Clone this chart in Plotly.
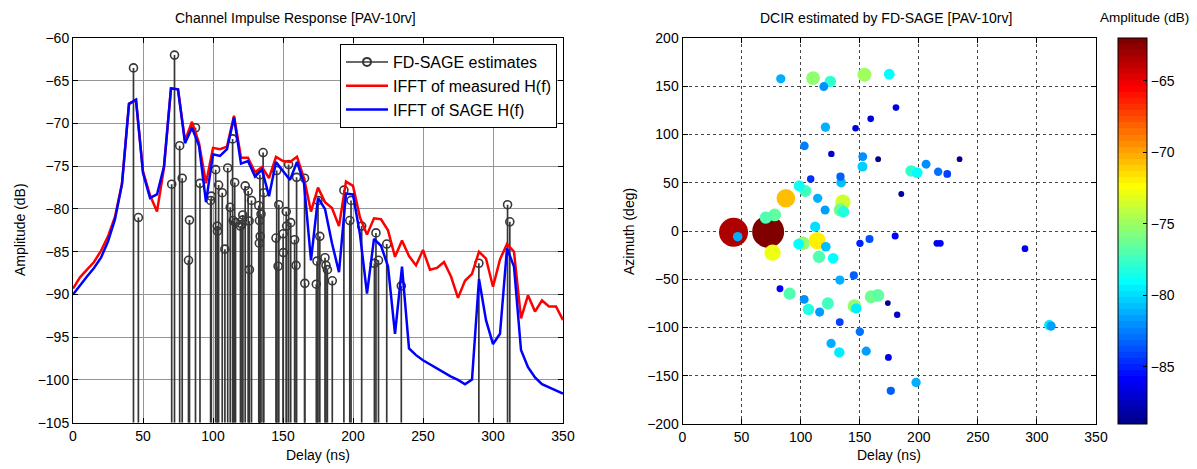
import numpy as np
import plotly.graph_objects as go

# ---------------- data ----------------
# FD-SAGE path estimates: delay (ns), amplitude (dB), azimuth (deg)
path_delay = [43.2, 46.7, 70.5, 72.5, 76.2, 78.0, 82.5, 83.2, 87.5, 90.7,
              98.3, 98.8, 101.9, 103.0, 103.2, 104.0, 106.6, 108.5, 110.5, 112.3,
              114.0, 114.4, 115.5, 116.1, 119.6, 120.7, 121.0, 121.3, 123.0, 125.1,
              125.8, 126.0, 127.5, 132.7, 133.1, 133.2, 133.5, 133.7, 134.3, 135.8,
              136.3, 145.0, 145.5, 146.5, 147.0, 150.1, 150.2, 152.3, 152.6, 154.0,
              155.5, 158.3, 159.3, 159.7, 165.4, 165.6, 173.8, 174.3, 175.0, 176.3,
              180.0, 180.7, 181.7, 185.2, 193.5, 197.7, 198.6, 206.2, 215.3, 216.4,
              218.2, 224.1, 234.5, 289.9, 310.4, 312.0]
path_amp = [-63.5, -81.0, -77.1, -62.0, -72.6, -76.4, -86.0, -81.3, -70.5, -77.0,
            -79.0, -78.5, -75.4, -82.0, -82.6, -77.2, -78.1, -84.7, -75.2, -79.8,
            -71.8, -81.35, -76.9, -81.6, -82.0, -81.8, -81.3, -80.7, -77.3, -77.9,
            -81.4, -87.1, -79.0, -79.6, -84.0, -81.35, -76.0, -83.2, -80.6, -73.4,
            -78.1, -83.4, -75.5, -86.7, -79.5, -82.9, -85.1, -80.3, -82.0, -74.8,
            -81.6, -83.6, -86.6, -76.3, -76.4, -88.7, -88.8, -86.1, -79.0, -83.2,
            -85.7, -86.6, -87.1, -88.4, -77.8, -81.35, -79.0, -82.0, -86.35, -82.8,
            -86.0, -84.1, -89.0, -86.35, -79.5, -81.5]
path_azimuth = [-1.3, -5.9, 13.8, -0.7, -22.5, 16.6, -59.8, 157.7, 33.9, -65.0,
                -13.5, 46.7, -12.8, -70.9, 88.2, 41.5, -81.2, 53.9, 158.4, 4.5,
                -10.0, 33.9, -26.7, -84.0, 149.7, 21.8, 107.6, -16.3, -75.0, 154.9,
                -116.5, 79.9, -28.3, -125.8, -94.4, -50.8, 21.8, 56.3, 50.1, 29.8,
                20.0, -46.0, -77.8, 106.5, -80.2, -104.4, -12.8, 66.7, 77.1, 161.8,
                -124.5, -8.3, 116.2, -68.1, -66.7, 74.4, -74.7, -131.0, 162.5, -165.6,
                -5.2, 127.9, -86.8, 38.4, 62.2, -157.0, 60.5, 69.2, -12.8, 61.5,
                -12.8, 59.1, 74.4, -18.3, -97.5, -98.5]

# IFFT curves sampled on the delay grid (ns)
ifft_delay = list(range(0, 351, 5))
ifft_measured = [-89.3, -88.0, -87.1, -86.2, -84.9, -83.2, -80.9, -77.0, -67.7, -67.3,
                 -75.6, -78.4, -80.3, -75.2, -65.9, -66.0, -72.0, -69.8, -72.3, -77.0,
                 -72.85, -73.0, -72.7, -69.1, -74.0, -74.0, -75.7, -75.1, -76.4, -73.9,
                 -74.4, -74.5, -73.9, -76.4, -80.3, -77.5, -79.2, -79.9, -82.0, -76.8,
                 -77.3, -81.0, -83.0, -81.1, -81.2, -82.5, -85.6, -83.7, -85.5, -86.6,
                 -84.8, -87.1, -86.9, -86.2, -87.9, -90.4, -88.4, -87.6, -85.0, -85.8,
                 -89.1, -85.9, -84.1, -85.0, -92.8, -90.1, -92.0, -90.7, -91.4, -91.4,
                 -93.0]
ifft_sage = [-90.0, -88.9, -87.9, -86.9, -85.7, -83.8, -81.2, -77.1, -67.7, -67.2,
             -75.8, -78.7, -78.3, -75.0, -65.9, -66.0, -72.3, -70.5, -72.6, -79.2,
             -73.6, -73.8, -73.0, -69.3, -74.7, -74.4, -76.2, -75.4, -78.5, -74.5,
             -75.5, -76.6, -74.5, -77.0, -86.0, -78.7, -80.0, -84.0, -87.4, -78.2,
             -78.3, -83.0, -89.9, -83.5, -84.3, -86.7, -94.6, -86.75, -96.3, -97.1,
             -97.7, -98.2, -98.7, -99.1, -99.6, -100.0, -100.5, -99.95, -88.2, -93.0,
             -95.8, -94.6, -84.6, -86.75, -96.5, -98.5, -99.7, -100.5, -100.85, -101.25,
             -101.6]

left_yticks = [-105, -100, -95, -90, -85, -80, -75, -70, -65, -60]
delay_ticks = [0, 50, 100, 150, 200, 250, 300, 350]
az_ticks = [-200, -150, -100, -50, 0, 50, 100, 150, 200]
cbar_ticks = [-85, -80, -75, -70, -65]

# ---------------- helpers ----------------
OFF = 8                      # page body margin
W, H = 1197 - OFF, 469 - OFF
def fx(px):
    return (px - OFF) / W
def fy(py):
    return 1 - (py - OFF) / H

def jet(m=64):
    n = int(np.ceil(m / 4))
    u = np.concatenate([np.arange(1, n + 1) / n, np.ones(n - 1), np.arange(n, 0, -1) / n])
    g = int(np.ceil(n / 2)) - (1 if m % 4 == 1 else 0) + np.arange(1, len(u) + 1)
    r = g + n
    b = g - n
    R = np.zeros(m); G = np.zeros(m); B = np.zeros(m)
    R[r[r <= m] - 1] = u[r <= m]
    G[g[g <= m] - 1] = u[g <= m]
    B[b[b >= 1] - 1] = u[b >= 1]
    return np.stack([R, G, B], axis=1)

cols = jet(64)
colorscale = []
for i, c in enumerate(cols):
    s = 'rgb(%d,%d,%d)' % tuple(int(round(v * 255)) for v in c)
    colorscale.append([i / 64, s])
    colorscale.append([(i + 1) / 64, s])

FONT = "Liberation Sans, Arial, sans-serif"
STEM = "rgb(55,55,55)"
BASE = -105

fig = go.Figure()

# legend entry for stems
fig.add_trace(go.Scatter(x=[None], y=[None], mode="lines+markers", name="FD-SAGE estimates",
                         line=dict(color=STEM, width=1.5),
                         marker=dict(symbol="circle-open", size=8, color=STEM, line=dict(width=2)),
                         xaxis="x", yaxis="y"))
# stems
sx, sy = [], []
for d, a in zip(path_delay, path_amp):
    sx += [d, d, None]
    sy += [BASE, a, None]
fig.add_trace(go.Scatter(x=sx, y=sy, mode="lines", line=dict(color=STEM, width=1.7),
                         showlegend=False, hoverinfo="skip", xaxis="x", yaxis="y"))
fig.add_trace(go.Scatter(x=path_delay, y=path_amp, mode="markers", showlegend=False,
                         marker=dict(symbol="circle-open", size=8, color=STEM, line=dict(width=1.6)),
                         xaxis="x", yaxis="y"))
fig.add_trace(go.Scatter(x=ifft_delay, y=ifft_measured, mode="lines", name="IFFT of measured H(f)",
                         line=dict(color="rgb(255,0,0)", width=2.5), xaxis="x", yaxis="y"))
fig.add_trace(go.Scatter(x=ifft_delay, y=ifft_sage, mode="lines", name="IFFT of SAGE H(f)",
                         line=dict(color="rgb(0,0,255)", width=2.5), xaxis="x", yaxis="y"))

# scatter: strongest drawn first
order = np.argsort(-np.array(path_amp))
amp_o = np.array(path_amp)[order]
cmin, cmax = min(path_amp), max(path_amp)
sizes = 32 * 10 ** ((amp_o - cmax) / 36.0)
fig.add_trace(go.Scatter(
    x=np.array(path_delay)[order], y=np.array(path_azimuth)[order], mode="markers",
    showlegend=False, xaxis="x2", yaxis="y2",
    marker=dict(size=sizes, color=amp_o, colorscale=colorscale, cmin=cmin, cmax=cmax,
                opacity=1, line=dict(width=0),
                colorbar=dict(x=fx(1118), xanchor="left", xref="paper",
                              y=fy(424), yanchor="bottom", yref="paper",
                              len=386, lenmode="pixels", thickness=29, thicknessmode="pixels",
                              outlinecolor="black", outlinewidth=1,
                              tickvals=cbar_ticks, ticks="inside", ticklen=4, tickcolor="black",
                              tickfont=dict(family=FONT, size=14, color="black"),
                              xpad=0, ypad=0))))

axis_common = dict(showline=True, linecolor="black", linewidth=1, mirror="ticks",
                   ticks="inside", ticklen=5, tickcolor="black", zeroline=False,
                   tickfont=dict(family=FONT, size=14, color="black"))

fig.update_layout(
    width=W, height=H, margin=dict(l=0, r=0, t=0, b=0, autoexpand=False),
    paper_bgcolor="white", plot_bgcolor="white",
    font=dict(family=FONT, size=14, color="black"),
    xaxis=dict(domain=[fx(73), fx(563)], range=[0, 350], tickvals=delay_ticks,
               showgrid=True, gridcolor="rgb(150,150,150)", gridwidth=1, anchor="y", **axis_common),
    yaxis=dict(domain=[fy(422.7), fy(38)], range=[-105, -60], tickvals=left_yticks,
               showgrid=True, gridcolor="rgb(150,150,150)", gridwidth=1, anchor="x", **axis_common),
    xaxis2=dict(domain=[fx(682.5), fx(1096)], range=[0, 350], tickvals=delay_ticks,
                showgrid=True, gridcolor="rgb(70,70,70)", griddash="dot", gridwidth=1,
                anchor="y2", **axis_common),
    yaxis2=dict(domain=[fy(424), fy(38)], range=[-200, 200], tickvals=az_ticks,
                showgrid=True, gridcolor="rgb(70,70,70)", griddash="dot", gridwidth=1,
                anchor="x2", **axis_common),
    legend=dict(x=fx(557), xanchor="right", y=fy(44), yanchor="top",
                bordercolor="black", borderwidth=1, bgcolor="white",
                font=dict(family=FONT, size=16, color="black"), itemwidth=42,
                tracegroupgap=0),
    annotations=[
        dict(text="Channel Impulse Response [PAV-10rv]", x=fx(295), y=fy(18), xref="paper", yref="paper",
             showarrow=False, xanchor="center", yanchor="middle", font=dict(size=14)),
        dict(text="DCIR estimated by FD-SAGE [PAV-10rv]", x=fx(886), y=fy(18), xref="paper", yref="paper",
             showarrow=False, xanchor="center", yanchor="middle", font=dict(size=14)),
        dict(text="Amplitude (dB)", x=fx(1144), y=fy(18), xref="paper", yref="paper",
             showarrow=False, xanchor="center", yanchor="middle", font=dict(size=13.5)),
        dict(text="Delay (ns)", x=fx(318), y=fy(455), xref="paper", yref="paper",
             showarrow=False, xanchor="center", yanchor="middle", font=dict(size=14)),
        dict(text="Delay (ns)", x=fx(889), y=fy(455), xref="paper", yref="paper",
             showarrow=False, xanchor="center", yanchor="middle", font=dict(size=14)),
        dict(text="Amplitude (dB)", x=fx(20), y=fy(230), xref="paper", yref="paper", textangle=-90,
             showarrow=False, xanchor="center", yanchor="middle", font=dict(size=14)),
        dict(text="Azimuth (deg)", x=fx(629), y=fy(231), xref="paper", yref="paper", textangle=-90,
             showarrow=False, xanchor="center", yanchor="middle", font=dict(size=14)),
    ],
)

fig.write_html("out.html")
